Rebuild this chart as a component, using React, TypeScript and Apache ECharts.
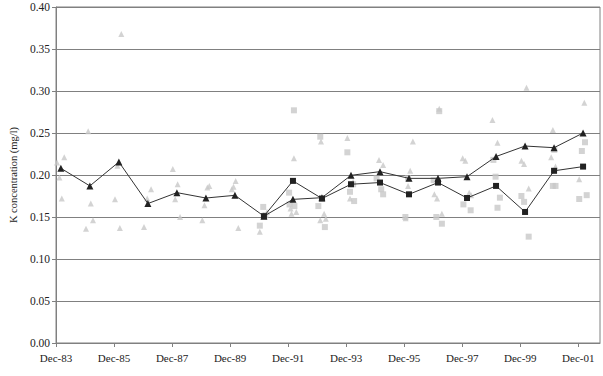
import React, { useEffect, useRef } from "react";
import * as echarts from "echarts";

// x values are months since Dec-83
const meanMonths = [2, 14, 26, 38, 50, 62, 74, 86, 98, 110, 122, 134, 146, 158, 170, 182, 194, 206, 218];
const triangleMeans = [0.208, 0.187, 0.2155, 0.166, 0.179, 0.1726, 0.1758, 0.151, 0.171, 0.173, 0.1996, 0.204, 0.196, 0.196, 0.198, 0.222, 0.2345, 0.2325, 0.25];
const squareMeanMonths = [86, 98, 110, 122, 134, 146, 158, 170, 182, 194, 206, 218];
const squareMeans = [0.151, 0.193, 0.172, 0.189, 0.191, 0.177, 0.191, 0.1726, 0.187, 0.156, 0.205, 0.21];

const triangleSampleMonths = [3.4, 0.4, 1.4, 2.4, 13.3, 14.4, 15.3, 12.4, 24.4, 25.4, 26.4, 27, 37.7, 39.3, 36.4, 48.3, 50.3, 49.3, 51.3, 62.6, 63.4, 61.4, 60.5, 74.3, 72.7, 73.4, 75.4, 84.3, 87.3, 98.4, 97, 97.4, 99.4, 109.6, 110.9, 109.3, 111.6, 120.5, 122.9, 121.6, 133.6, 135.3, 147.6, 146.5, 145.6, 144.6, 158.5, 156.5, 157.6, 159.6, 168.2, 169.3, 170.9, 171.7, 180.5, 182.6, 194.6, 192.5, 193.6, 195.5, 205.5, 204.8, 206.6, 218.5, 216.4];
const triangleSamples = [0.221, 0.215, 0.197, 0.172, 0.252, 0.166, 0.146, 0.136, 0.171, 0.211, 0.137, 0.368, 0.172, 0.183, 0.138, 0.207, 0.189, 0.171, 0.15, 0.185, 0.187, 0.164, 0.146, 0.193, 0.183, 0.186, 0.137, 0.1325, 0.156, 0.22, 0.16, 0.154, 0.156, 0.24, 0.154, 0.146, 0.148, 0.244, 0.192, 0.172, 0.218, 0.212, 0.24, 0.205, 0.187, 0.1485, 0.279, 0.177, 0.172, 0.154, 0.22, 0.217, 0.179, 0.176, 0.2655, 0.2385, 0.304, 0.217, 0.213, 0.184, 0.2536, 0.221, 0.21, 0.286, 0.195];

const squareSampleMonths = [85.7, 84.3, 86.6, 98.4, 96.4, 96.6, 98.6, 109.3, 108.5, 111.2, 120.5, 122.9, 121.6, 123.3, 132.6, 134.5, 135.3, 145.6, 144.5, 156.2, 157.3, 159.6, 158.5, 168.5, 171.5, 180.9, 181.8, 183.6, 182.6, 192.5, 193.6, 195.5, 206.1, 205.5, 206.6, 218.8, 217.5, 216.4, 219.5];
const squareSamples = [0.162, 0.1397, 0.152, 0.277, 0.179, 0.165, 0.163, 0.2456, 0.163, 0.138, 0.227, 0.189, 0.18, 0.169, 0.196, 0.183, 0.177, 0.196, 0.15, 0.194, 0.15, 0.142, 0.276, 0.165, 0.158, 0.218, 0.198, 0.173, 0.161, 0.175, 0.168, 0.1266, 0.23, 0.187, 0.187, 0.239, 0.2286, 0.1714, 0.176];

const xTickMonths = [0, 24, 48, 72, 96, 120, 144, 168, 192, 216];

const zip = (xs: number[], ys: number[]) => xs.map((x, i) => [x, ys[i]]);

export default function App() {
  const ref = useRef<HTMLDivElement>(null);
  useEffect(() => {
    const chart = echarts.init(ref.current!, undefined, { renderer: "svg" });
    const font = "Liberation Serif";
    chart.setOption({
      animation: false,
      backgroundColor: "#ffffff",
      textStyle: { fontFamily: font },
      grid: { left: 37, right: 3, top: 7, bottom: 33, show: true, borderColor: "#808080", borderWidth: 1 },
      xAxis: {
        type: "value",
        min: 0,
        max: 225,
        splitLine: { show: false },
        axisLine: { lineStyle: { color: "#808080", width: 1 } },
        axisTick: { show: true, length: 4, lineStyle: { color: "#808080" }, customValues: xTickMonths },
        axisLabel: {
          customValues: xTickMonths,
          color: "#222",
          fontFamily: font,
          fontSize: 11,
          margin: 9,
          formatter: (v: number) => "Dec-" + String((83 + Math.round(v / 12)) % 100).padStart(2, "0"),
        },
      },
      yAxis: {
        type: "value",
        min: 0,
        max: 0.4,
        interval: 0.05,
        name: "K concentration (mg/l)",
        nameLocation: "middle",
        nameGap: 29,
        nameTextStyle: { fontFamily: font, fontSize: 10.5, color: "#222" },
        splitLine: { show: true, lineStyle: { color: "#808080", width: 1 } },
        axisLine: { show: true, lineStyle: { color: "#808080", width: 1 } },
        axisTick: { show: true, length: 4, lineStyle: { color: "#808080" } },
        axisLabel: {
          color: "#222",
          fontFamily: font,
          fontSize: 11.5,
          margin: 6,
          formatter: (v: number) => v.toFixed(2),
        },
      },
      series: [
        {
          type: "scatter",
          data: zip(triangleSampleMonths, triangleSamples),
          symbol: "triangle",
          symbolSize: 6,
          itemStyle: { color: "#c8c8c8" },
          z: 1,
        },
        {
          type: "scatter",
          data: zip(squareSampleMonths, squareSamples),
          symbol: "rect",
          symbolSize: 6,
          itemStyle: { color: "#c8c8c8" },
          z: 1,
        },
        {
          type: "line",
          data: zip(squareMeanMonths, squareMeans),
          symbol: "rect",
          symbolSize: 6,
          showSymbol: true,
          lineStyle: { color: "#333", width: 1 },
          itemStyle: { color: "#222" },
          z: 3,
        },
        {
          type: "line",
          data: zip(meanMonths, triangleMeans),
          symbol: "triangle",
          symbolSize: 7,
          showSymbol: true,
          lineStyle: { color: "#333", width: 1 },
          itemStyle: { color: "#222" },
          z: 3,
        },
      ],
    });
    return () => chart.dispose();
  }, []);
  return <div ref={ref} style={{ position: "fixed", left: 0, top: 0, width: 603, height: 376 }} />;
}
